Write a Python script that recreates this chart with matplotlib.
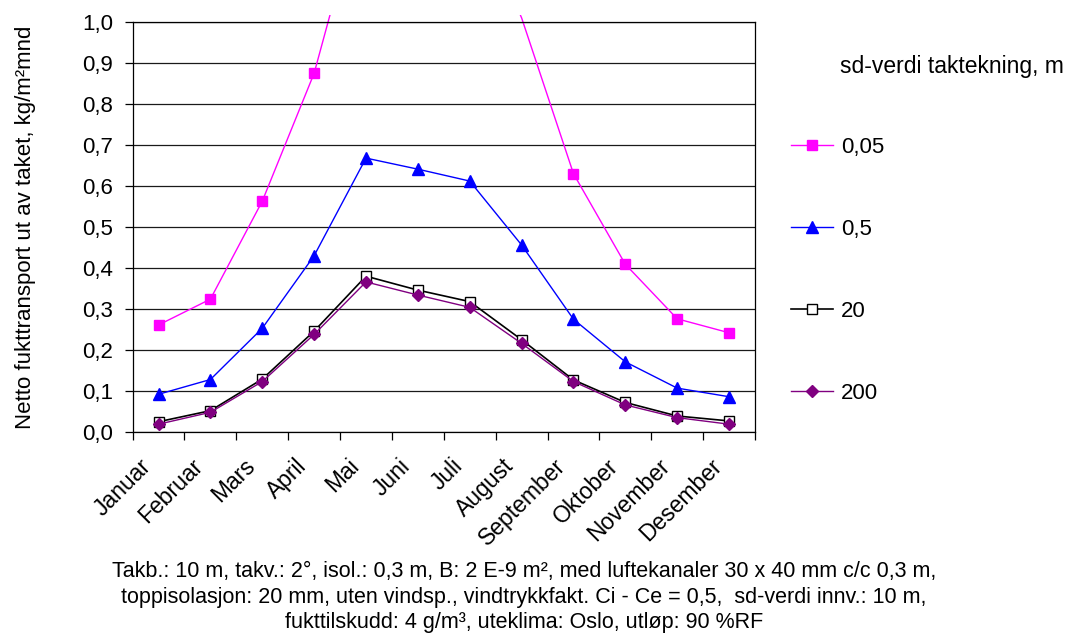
import numpy as np
import matplotlib.pyplot as plt
from matplotlib.transforms import Bbox, TransformedBbox, ScaledTranslation

plt.rcParams["font.family"] = ["Liberation Sans", "DejaVu Sans"]

months = ["Januar", "Februar", "Mars", "April", "Mai", "Juni", "Juli",
          "August", "September", "Oktober", "November", "Desember"]

# netto fukttransport, kg/m²mnd, per sd-verdi for taktekningen
sd_005 = [0.261, 0.324, 0.563, 0.875, 1.34, 1.32, 1.30, 1.01,
          0.630, 0.409, 0.276, 0.242]
sd_05 = [0.092, 0.128, 0.253, 0.430, 0.668, 0.641, 0.612, 0.456,
         0.275, 0.171, 0.107, 0.086]
sd_20 = [0.025, 0.052, 0.129, 0.246, 0.380, 0.346, 0.318, 0.225,
         0.127, 0.072, 0.039, 0.027]
sd_200 = [0.019, 0.048, 0.123, 0.238, 0.366, 0.334, 0.304, 0.216,
          0.123, 0.066, 0.035, 0.019]

series = [
    ("0,05", sd_005, dict(color="#ff00ff", marker="s", ms=7.5,
                          mfc="#ff00ff", mec="#ff00ff", lw=1.0)),
    ("0,5", sd_05, dict(color="#0000ff", marker="^", ms=9,
                        mfc="#0000ff", mec="#0000ff", lw=1.0)),
    ("20", sd_20, dict(color="black", marker="s", ms=7.5,
                       mfc="white", mec="black", mew=1.0, lw=1.2)),
    ("200", sd_200, dict(color="#800080", marker="D", ms=6.5,
                         mfc="#800080", mec="#800080", lw=1.0)),
]

caption = ("Takb.: 10 m, takv.: 2°, isol.: 0,3 m, B: 2 E-9 m², med luftekanaler 30 x 40 mm c/c 0,3 m,\n"
           "toppisolasjon: 20 mm, uten vindsp., vindtrykkfakt. Ci - Ce = 0,5,  sd-verdi innv.: 10 m,\n"
           "fukttilskudd: 4 g/m³, uteklima: Oslo, utløp: 90 %RF")

y_max = 1.0

fig = plt.figure(figsize=(10.72, 6.35), dpi=100)
ax = fig.add_axes([0.1237, 0.3197, 0.5806, 0.6457])

x = np.arange(len(months))
# lines may run a few pixels above the top of the value axis,
# but markers for values beyond it are left out
clip = TransformedBbox(Bbox([[0, 0], [1, 1.017]]), ax.transAxes)
handles = []
for label, values, style in series:
    visible = [v <= y_max for v in values]
    line, = ax.plot(x, values, label=label, markevery=visible, **style)
    line.set_clip_box(clip)
    handles.append(line)

ax.set_xlim(-0.5, 11.5)
ax.set_ylim(0, y_max)
yt = np.arange(0, 1.01, 0.1)
ax.set_yticks(yt)
ax.set_yticklabels([f"{v:.1f}".replace(".", ",") for v in yt])
ax.yaxis.grid(True, color="#1a1a1a", lw=0.9)
ax.set_axisbelow(True)

ax.set_xticks(x)
ax.set_xticks(np.arange(-0.5, 12, 1), minor=True)
ax.tick_params(axis="x", which="major", length=0, pad=4)
ax.tick_params(axis="x", which="minor", length=6, width=0.9, direction="out")
ax.tick_params(axis="y", length=6, width=0.9, direction="out", pad=8, labelsize=16)
ax.set_xticklabels(months, rotation=45, ha="right", va="top",
                   rotation_mode="anchor", fontsize=16.5)
# nudge the slanted month names down and to the left
shift = ScaledTranslation(-0.19, -0.17, fig.dpi_scale_trans)
for lbl in ax.get_xticklabels():
    lbl.set_transform(lbl.get_transform() + shift)

for side in ["left", "bottom", "right", "top"]:
    ax.spines[side].set_color("black")
    ax.spines[side].set_linewidth(0.9)

ax.set_ylabel("Netto fukttransport ut av taket, kg/m²mnd", fontsize=16)
ax.yaxis.set_label_coords(-0.155, 0.5)

fig.text(840 / 1072, 1 - 66 / 635, "sd-verdi taktekning, m", fontsize=16.5,
         ha="left", va="center")
fig.legend(handles=handles, loc="upper left",
           bbox_to_anchor=(782 / 1072, 1 - 128 / 635), frameon=False,
           fontsize=16, labelspacing=2.75, handlelength=1.9, handletextpad=0.35,
           borderaxespad=0)

fig.text(524 / 1072, 1 - 597 / 635, caption, fontsize=15.5, ha="center",
         va="center", linespacing=1.28)

fig.savefig("out.png", dpi=100)
